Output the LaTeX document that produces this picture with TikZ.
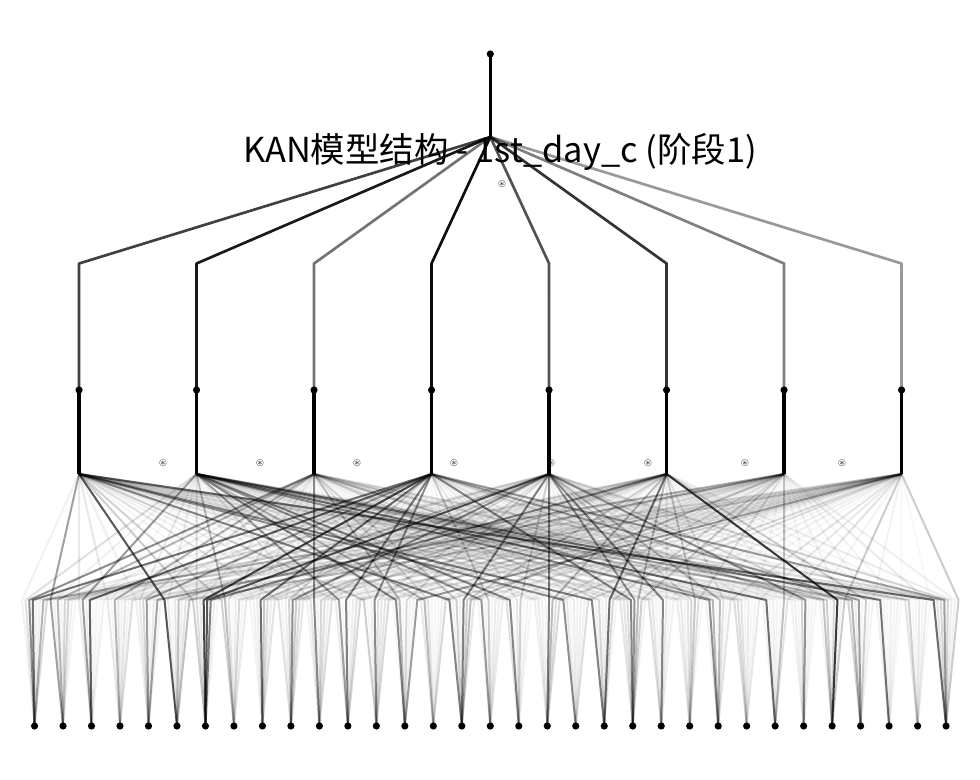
\documentclass[tikz,border=0pt]{standalone}
\usepackage{amssymb}
\usepackage{fontspec}
\newfontfamily\cjk{Noto Sans CJK SC}

\begin{document}
\begin{tikzpicture}[x=0.75pt, y=-0.75pt,
  dotnode/.style={circle, fill=black, inner sep=0pt, minimum size=5.4pt},
  edge/.style={line width=1.5pt, line join=round, black},
  hedge/.style={line width=2pt, line join=round, black},
  multline/.style={line width=2.6pt, black},
  symb/.style={font=\scriptsize, inner sep=0pt},
  speck/.style={circle, fill=gray!50, inner sep=0pt, minimum size=0.7pt}]
  \useasboundingbox (0,0) rectangle (980,780);

  % Title, under the wires
  \node[font=\cjk\fontsize{25.8}{26}\selectfont, inner sep=0pt] (title) at (500,152) {KAN模型结构 - 1st\_day\_c (阶段1)};

  % Nodes: 33 inputs, 8 hidden, 1 output
  \foreach \i in {0,...,32}
    \node[dotnode] (in\i) at ({20.3+28.485*(\i+0.5)},726) {};
  \foreach \j in {0,...,7} {
    \coordinate (s\j) at ({20.3+117.5*(\j+0.5)},474);
    \node[dotnode] (h\j) at ({20.3+117.5*(\j+0.5)},390) {};
    \coordinate (t\j) at ({20.3+117.5*(\j+0.5)},263.5);
  }
  \coordinate (os) at (490.3,137);
  \node[dotnode] (out) at (490.3,54) {};

  % Layer 0 wires
  \pgfmathsetseed{2718}
  \foreach \i in {0,...,32}
    \foreach \j in {0,...,7} {
      \pgfmathsetmacro{\op}{0.03+0.3*rnd*rnd}
      \coordinate (m\i-\j) at ({20.3+3.5606*(8*\i+\j+0.5)},600);
      \draw[edge, draw opacity=\op] (in\i.center) -- (m\i-\j) -- (s\j);
    }
  % strong wires
  \foreach \i/\j/\op in {0/2/0.4, 0/3/0.45, 1/0/0.35, 2/1/0.35, 2/3/0.5, 4/3/0.35, 4/6/0.3,
      5/0/0.6, 6/3/0.7, 6/4/0.65, 6/5/0.45, 8/3/0.55, 9/4/0.35, 10/2/0.4,
      11/1/0.35, 11/3/0.45, 12/3/0.4, 13/1/0.35, 13/7/0.35, 15/0/0.4, 15/4/0.4,
      16/1/0.35, 17/1/0.45, 18/4/0.45, 19/0/0.4, 20/0/0.4, 20/5/0.5, 21/3/0.45,
      21/4/0.4, 22/4/0.45, 24/1/0.4, 26/1/0.55, 27/4/0.4, 28/5/0.75, 29/3/0.35,
      30/1/0.5, 32/0/0.5, 32/3/0.35}
    \draw[edge, draw opacity=\op] (in\i.center) -- (m\i-\j) -- (s\j);

  % Sum to hidden
  \foreach \j in {0,...,7}
    \draw[multline] (s\j) -- (h\j.center);

  % Layer 1 wires
  \foreach \j/\op in {0/0.75, 1/0.9, 2/0.55, 3/0.95, 4/0.68, 5/0.8, 6/0.5, 7/0.4}
    \draw[hedge, draw opacity=\op] (h\j.center) -- (t\j) -- (os);
  \draw[multline] (os) -- (out.center);

  % Small marks
  \foreach \k in {0,...,7} {
    \node[symb] (sym\k) at ({163+97*\k},463) {$\circledast$};
    \node[speck] (sp\k) at ({164+97*\k},288) {};
  }
  \node[symb] (symtop) at (502,184) {$\circledast$};
\end{tikzpicture}
\end{document}
